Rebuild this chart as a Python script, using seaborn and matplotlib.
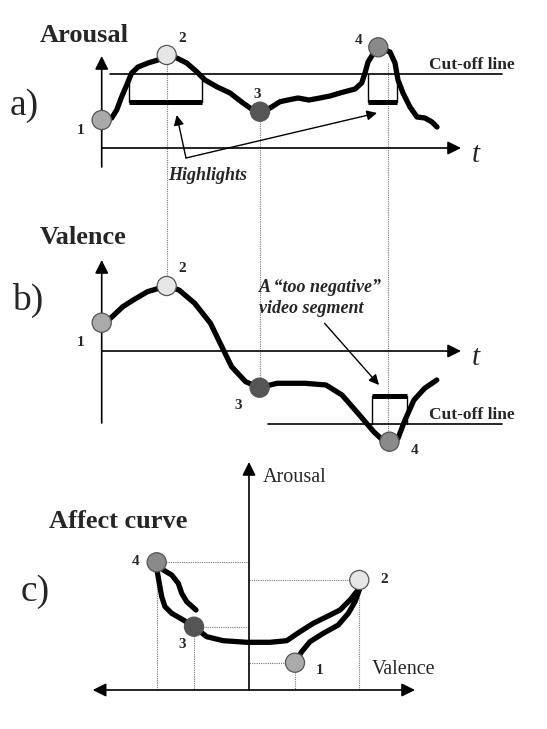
import matplotlib
matplotlib.use("Agg")
import matplotlib.pyplot as plt
import seaborn as sns
import pandas as pd

sns.set_theme(style="white")
plt.rcParams['font.family'] = ['Liberation Serif', 'DejaVu Serif']

# ---------------- data (diagram canvas units, y grows downward) ----------------
# panel a: arousal over time
A_T = [101.7, 111.7, 116.7, 121.7, 126.7, 131.7, 138, 148, 158, 166.7, 176.7, 186.7,
       196.7, 205, 216.7, 230, 243, 253, 260, 270, 280, 288, 298, 309, 320, 330, 340,
       355, 361.7, 365, 368, 373, 378.3, 390, 395, 398, 403, 410, 417, 425, 432, 437]
A_Y = [120, 118, 110, 96.7, 85, 73, 67, 63, 60, 55, 58, 63, 71.7, 80, 86.7, 93, 103,
       110, 111.7, 108, 101.7, 100, 98, 100, 98, 96, 93, 89, 83, 73, 62, 54, 47.3, 52,
       63, 80, 93, 107, 117, 118, 122, 127]
# panel b: valence over time
B_T = [101.7, 110.5, 122.8, 133.3, 147.4, 166.7, 179, 194.7, 210.5, 221, 231.6, 245.6,
       259.6, 277, 305, 326, 342, 358, 373.7, 382.5, 389.5, 398, 405, 414, 424.6, 436.8]
B_Y = [322.7, 318.3, 306.7, 300, 291.7, 286, 290, 303.3, 323.3, 345, 366.7, 381.7,
       387.7, 383.3, 383.3, 385, 395, 413.3, 431.7, 440, 441.7, 438.3, 420, 400, 388.3, 380]
# panel c: affect curve (valence, arousal)
C_X = [295, 301.7, 310, 323.3, 338.3, 348.3, 355, 359.3,
       359.3, 350, 340, 326.7, 313.3, 300, 286.7, 270, 246.7, 223.3, 206.7, 194,
       183.3, 171.7, 165, 161.7, 159.3, 157.3, 156.7,
       163.3, 171.7, 178.3, 181.7, 186.7, 196]
C_Y = [662.7, 651.7, 641.7, 633.3, 625, 613.3, 601.7, 590,
       588.3, 600, 610, 616.7, 623.3, 631.7, 640.7, 642.3, 642.3, 640.7, 636.7, 626.7,
       620, 613.3, 606.7, 596.7, 583.3, 571.7, 562.3,
       570, 575, 583.3, 593.3, 601.7, 610]

POINT_IDS = ['1', '2', '3', '4']
POINT_FILL = ['#aaaaaa', '#e6e6e6', '#555555', '#8a8a8a']
A_PX = [101.7, 166.7, 260, 378.3]
A_PY = [120, 55, 111.7, 47.3]
B_PX = [101.7, 166.7, 259.6, 389.5]
B_PY = [322.7, 286, 387.7, 441.7]
C_PX = [295, 359.3, 194, 156.7]
C_PY = [662.7, 580, 626.7, 562.3]

# highlight brackets (panel a) and negative segment bracket (panel b)
A_HL_LEFT = [129.3, 368.3]
A_HL_RIGHT = [201.7, 396.7]
CUT_A = 74.3
CUT_B = 424

# ---------------- figure ----------------
fig = plt.figure(figsize=(5.47, 7.29), dpi=100)
ax = fig.add_axes([0, 0, 1, 1])
ax.set_xlim(0, 547)
ax.set_ylim(729, 0)
ax.axis('off')

K = 'black'
arrow_kw = dict(arrowstyle='-|>', color=K, lw=1.2, mutation_scale=20,
                shrinkA=0, shrinkB=0)
thin_arrow = dict(arrowstyle='-|>', color=K, lw=1.0, mutation_scale=15,
                  shrinkA=0, shrinkB=0)
dot_kw = dict(color='#777777', lw=0.8, linestyle=(0, (1, 1)), zorder=1)


def arrow(x0, y0, x1, y1, kw):
    ax.annotate('', xy=(x1, y1), xytext=(x0, y0), arrowprops=kw, zorder=2)


def curve(xs, ys):
    df = pd.DataFrame({'x': xs, 'y': ys})
    sns.lineplot(data=df, x='x', y='y', sort=False, estimator=None, ax=ax,
                 color=K, lw=3.8, solid_joinstyle='round', solid_capstyle='round',
                 zorder=3)


def points(px, py):
    df = pd.DataFrame({'x': px, 'y': py, 'id': POINT_IDS})
    sns.scatterplot(data=df, x='x', y='y', hue='id', palette=POINT_FILL,
                    hue_order=POINT_IDS, s=190, edgecolor='#555555', linewidth=0.9,
                    legend=False, ax=ax, zorder=5)


lab = dict(fontsize=11, fontweight='bold', ha='center', va='center')
title = dict(fontsize=19, fontweight='bold', ha='left', va='center')

# ---- panel a ----
ax.text(40, 35, 'Arousal', **title)
ax.text(10, 106, 'a)', fontsize=27, ha='left', va='center')
arrow(101.7, 167, 101.7, 56, arrow_kw)
arrow(101.7, 148, 461, 148, arrow_kw)
ax.text(476, 155, 't', fontsize=21, style='italic', ha='center', va='center')
ax.plot([110, 502], [CUT_A, CUT_A], color=K, lw=1.2, zorder=2)
ax.text(429, 65, 'Cut-off line', fontsize=12.5, fontweight='bold', ha='left', va='center')
for l, r in zip(A_HL_LEFT, A_HL_RIGHT):
    ax.plot([l, l], [CUT_A, 101.7], color=K, lw=1.0, zorder=2)
    ax.plot([r, r], [CUT_A, 101.7], color=K, lw=1.0, zorder=2)
    ax.plot([l, r], [101.7, 101.7], color=K, lw=3.6, solid_capstyle='butt', zorder=2)
arrow(186, 158, 176.7, 115, thin_arrow)
arrow(186, 158, 377, 113, thin_arrow)
ax.text(168, 175, 'Highlights', fontsize=13, fontweight='bold', style='italic',
        ha='left', va='center')
curve(A_T, A_Y)
points(A_PX, A_PY)
for t, (dx, dy) in zip(POINT_IDS, [(80.7, 130), (182.5, 38), (257, 94), (358.6, 40)]):
    ax.text(dx, dy, t, **lab)

# dotted drop lines from a to b
ax.plot([166.7, 166.7], [55, 286], **dot_kw)
ax.plot([259.5, 259.5], [111.7, 387.7], **dot_kw)
ax.plot([387.5, 387.5], [63, 441.7], **dot_kw)

# ---- panel b ----
ax.text(40, 237, 'Valence', **title)
ax.text(12, 300, 'b)', fontsize=27, ha='left', va='center')
arrow(101.7, 423, 101.7, 260, arrow_kw)
arrow(101.7, 351, 461, 351, arrow_kw)
ax.text(476, 358, 't', fontsize=21, style='italic', ha='center', va='center')
ax.plot([268, 502], [CUT_B, CUT_B], color=K, lw=1.2, zorder=2)
ax.text(429, 415, 'Cut-off line', fontsize=12.5, fontweight='bold', ha='left', va='center')
ax.plot([372, 372], [396, CUT_B], color=K, lw=1.0, zorder=2)
ax.plot([407, 407], [396, CUT_B], color=K, lw=1.0, zorder=2)
ax.plot([372, 407], [396, 396], color=K, lw=3.6, solid_capstyle='butt', zorder=2)
ax.text(259, 287, 'A \u201ctoo negative\u201d', fontsize=13, fontweight='bold',
        style='italic', ha='left', va='center')
ax.text(259, 308, 'video segment', fontsize=13, fontweight='bold',
        style='italic', ha='left', va='center')
arrow(324.6, 323.3, 379, 385, thin_arrow)
curve(B_T, B_Y)
points(B_PX, B_PY)
for t, (dx, dy) in zip(POINT_IDS, [(80.7, 342.7), (182.5, 268.3), (238, 405), (415, 450)]):
    ax.text(dx, dy, t, **lab)

# ---- panel c ----
ax.text(49, 522, 'Affect curve', **title)
ax.text(21, 592, 'c)', fontsize=27, ha='left', va='center')
arrow(249, 690, 249, 462, arrow_kw)
ax.annotate('', xy=(92.7, 690), xytext=(415, 690),
            arrowprops=dict(arrowstyle='<|-|>', color=K, lw=1.2, mutation_scale=20,
                            shrinkA=0, shrinkB=0), zorder=2)
ax.text(262.5, 477, 'Arousal', fontsize=14.5, ha='left', va='center')
ax.text(371.7, 670, 'Valence', fontsize=14.5, ha='left', va='center')
for px, py in zip(C_PX, C_PY):
    ax.plot([px, 249], [py, py], **dot_kw)
    ax.plot([px, px], [py, 690], **dot_kw)
curve(C_X, C_Y)
points(C_PX, C_PY)
for t, (dx, dy) in zip(POINT_IDS, [(319.3, 670.7), (384.3, 579.3), (181.7, 644), (135.7, 561.7)]):
    ax.text(dx, dy, t, **lab)

fig.savefig('out.png', dpi=100, facecolor='white')
